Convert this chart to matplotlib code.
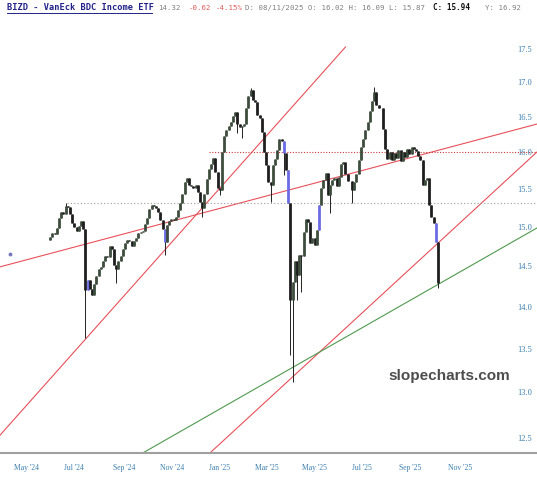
import numpy as np
import pandas as pd
import matplotlib
matplotlib.use('Agg')
import matplotlib.pyplot as plt
from matplotlib.lines import Line2D
from matplotlib.ticker import FixedLocator, NullLocator, FuncFormatter

# daily candles, sampled every second weekday starting 30 May 2024
start_date = '2024-05-30'
first_open = 14.83
closes = [14.87, 14.92, 14.91, 14.99, 15.12, 15.20, 15.17, 15.28, 15.26, 15.17,
          15.05, 15.00, 14.95, 15.01, 15.08, 14.98, 14.21, 14.33, 14.22, 14.14,
          14.28, 14.38, 14.46, 14.49, 14.56, 14.63, 14.61, 14.75, 14.72, 14.51,
          14.46, 14.56, 14.63, 14.72, 14.80, 14.83, 14.82, 14.76, 14.82, 14.86,
          14.92, 14.94, 14.95, 15.04, 15.12, 15.24, 15.29, 15.28, 15.25, 15.20,
          15.09, 14.98, 14.81, 15.03, 15.08, 15.11, 15.09, 15.13, 15.22, 15.32,
          15.44, 15.60, 15.65, 15.56, 15.54, 15.52, 15.56, 15.46, 15.33, 15.25,
          15.44, 15.64, 15.77, 15.84, 15.92, 15.73, 15.52, 15.49, 16.01, 16.23,
          16.32, 16.37, 16.43, 16.51, 16.57, 16.40, 16.36, 16.37, 16.40, 16.63,
          16.80, 16.89, 16.74, 16.72, 16.53, 16.49, 16.29, 16.01, 15.83, 15.60,
          15.56, 15.83, 15.91, 16.04, 16.19, 16.16, 15.99, 15.76, 15.32, 14.08,
          14.30, 14.56, 14.39, 14.64, 14.63, 14.94, 15.11, 15.07, 14.79, 14.86,
          14.77, 14.96, 15.29, 15.52, 15.62, 15.72, 15.42, 15.56, 15.62, 15.65,
          15.54, 15.66, 15.84, 15.87, 15.71, 15.61, 15.61, 15.49, 15.60, 15.71,
          15.90, 16.08, 16.19, 16.32, 16.43, 16.59, 16.73, 16.86, 16.67, 16.63,
          16.63, 16.33, 16.05, 15.91, 16.01, 15.90, 15.99, 15.92, 16.04, 15.88,
          16.01, 15.94, 16.05, 15.98, 16.07, 16.05, 16.02, 15.95, 15.90, 15.56,
          15.62, 15.65, 15.29, 15.13, 15.05, 14.81, 14.29]
# wicks that stick out past the bodies
wick_lows = {16: 13.63, 30: 14.29, 52: 14.64, 69: 15.13, 77: 15.42, 85: 16.27,
             87: 16.20, 100: 15.33, 106: 15.69, 109: 13.43, 110: 13.12,
             112: 14.08, 114: 14.18, 127: 15.18, 137: 15.32, 176: 14.23}
wick_highs = {7: 15.32, 91: 16.92, 147: 16.93}
blue_bars = [17, 52, 106, 108, 122, 175]

# drawn trend lines (date, price) end points
red_lines = [
    [('2024-03-27', 14.49), ('2026-02-09', 16.40)],
    [('2024-03-27', 12.52), ('2025-06-10', 17.53)],
    [('2024-12-19', 12.335), ('2026-02-09', 16.01)],
]
green_line = [('2024-09-25', 12.335), ('2026-02-09', 14.99)]
gray_level = ('2024-06-20', '2026-02-09', 15.32)
red_level = ('2024-12-18', '2026-02-09', 16.01)
dot_point = ('2024-04-10', 14.66)

y_ticks = [12.5, 13.0, 13.5, 14.0, 14.5, 15.0, 15.5, 16.0, 16.5, 17.0, 17.5]
month_starts = pd.date_range('2024-05-01', '2025-11-01', freq='2MS')

base = np.datetime64('2024-05-01')


def pos(d):
    return np.busday_count(base, np.datetime64(d, 'D'))


dates = pd.bdate_range(start_date, periods=len(closes), freq='2B')
x = np.busday_count(base, dates.values.astype('datetime64[D]'))
opens = np.array([first_open] + closes[:-1])
closes_a = np.array(closes)
highs = np.maximum(opens, closes_a)
lows = np.minimum(opens, closes_a)
for i, v in wick_lows.items():
    lows[i] = v
for i, v in wick_highs.items():
    highs[i] = v

colors = []
for i in range(len(closes)):
    if i in blue_bars:
        colors.append('#6b6be6')
    elif closes_a[i] >= opens[i]:
        colors.append('#3d4d3d')
    else:
        colors.append('#1e1e1e')

fig = plt.figure(figsize=(5.37, 4.8), dpi=100)
ax = fig.add_axes([0, 27 / 480, 1, 453 / 480])
ax.set_yscale('log')
ax.set_ylim(12.335, 18.258)
ax.set_xlim(-24.5, 462.8)

# trend lines and levels
for seg in red_lines:
    ax.plot([pos(seg[0][0]), pos(seg[1][0])], [seg[0][1], seg[1][1]],
            color='#e8505a', lw=0.8)
ax.plot([pos(green_line[0][0]), pos(green_line[1][0])],
        [green_line[0][1], green_line[1][1]], color='#4f9a4f', lw=0.8)
ax.plot([pos(gray_level[0]), pos(gray_level[1])], [gray_level[2]] * 2,
        color='#9a9a9a', lw=0.8, ls=(0, (1, 2)))
ax.plot([pos(red_level[0]), pos(red_level[1])], [red_level[2]] * 2,
        color='#c83c3c', lw=0.8, ls=(0, (1, 1.5)))
ax.plot(pos(dot_point[0]), dot_point[1], 'o', ms=1.8, color='#7777bb')

# candles
ax.vlines(x, lows, highs, colors='#222222', lw=0.7, zorder=3)
ax.vlines(x, np.minimum(opens, closes_a), np.maximum(opens, closes_a),
          colors=colors, lw=2.0, zorder=4)

# axes styling
for s in ['top', 'left', 'right']:
    ax.spines[s].set_visible(False)
ax.spines['bottom'].set_color('#a0a0a0')
ax.spines['bottom'].set_linewidth(1.5)

ax.yaxis.set_major_locator(FixedLocator(y_ticks))
ax.yaxis.set_minor_locator(NullLocator())
ax.yaxis.set_major_formatter(FuncFormatter(lambda v, p: '%.1f' % v))
ax.yaxis.tick_right()
ax.tick_params(axis='y', length=0, pad=-14, labelsize=6, labelcolor='#3a7fae')

tick_pos = [np.busday_count(base, np.busday_offset(np.datetime64(m.date(), 'D'), 0, roll='forward'))
            for m in month_starts]
ax.set_xticks(tick_pos)
ax.set_xticklabels([m.strftime("%b '%y") for m in month_starts])
ax.tick_params(axis='x', length=0, pad=8, labelsize=5.5, labelcolor='#3a7fae')
for lab in ax.get_xticklabels() + ax.get_yticklabels():
    lab.set_family('Liberation Serif')

# header
W, H = 537.0, 480.0
ty = 1 - 8 / H
mono = 'DejaVu Sans Mono'
fig.text(7 / W, ty, 'BIZD - VanEck BDC Income ETF', family=mono,
         weight='bold', fontsize=6.2, color='#22228a', va='center')
fig.add_artist(Line2D([7 / W, 152 / W], [1 - 12.5 / H] * 2, color='#22228a', lw=0.7))
fig.text(158 / W, ty, '14.32', family=mono, fontsize=5.3, color='#808080', va='center')
fig.text(189 / W, ty, '-0.62', family=mono, fontsize=5.3, color='#e05a5a', va='center')
fig.text(216 / W, ty, '-4.15%', family=mono, fontsize=5.3, color='#e05a5a', va='center')
fig.text(245 / W, ty, 'D: 08/11/2025 O: 16.02 H: 16.09 L: 15.87',
         family=mono, fontsize=5.3, color='#808080', va='center')
fig.text(433 / W, ty, 'C: 15.94', family=mono, weight='bold',
         fontsize=5.5, color='#111111', va='center')
fig.text(485 / W, ty, 'Y: 16.92', family=mono, fontsize=5.3,
         color='#808080', va='center')

fig.text(388 / W, 1 - 376 / H, 'slopecharts.com', family='Liberation Sans',
         weight='bold', fontsize=11, color='#4d4d4d', va='center')

fig.savefig('out.png', dpi=100)
